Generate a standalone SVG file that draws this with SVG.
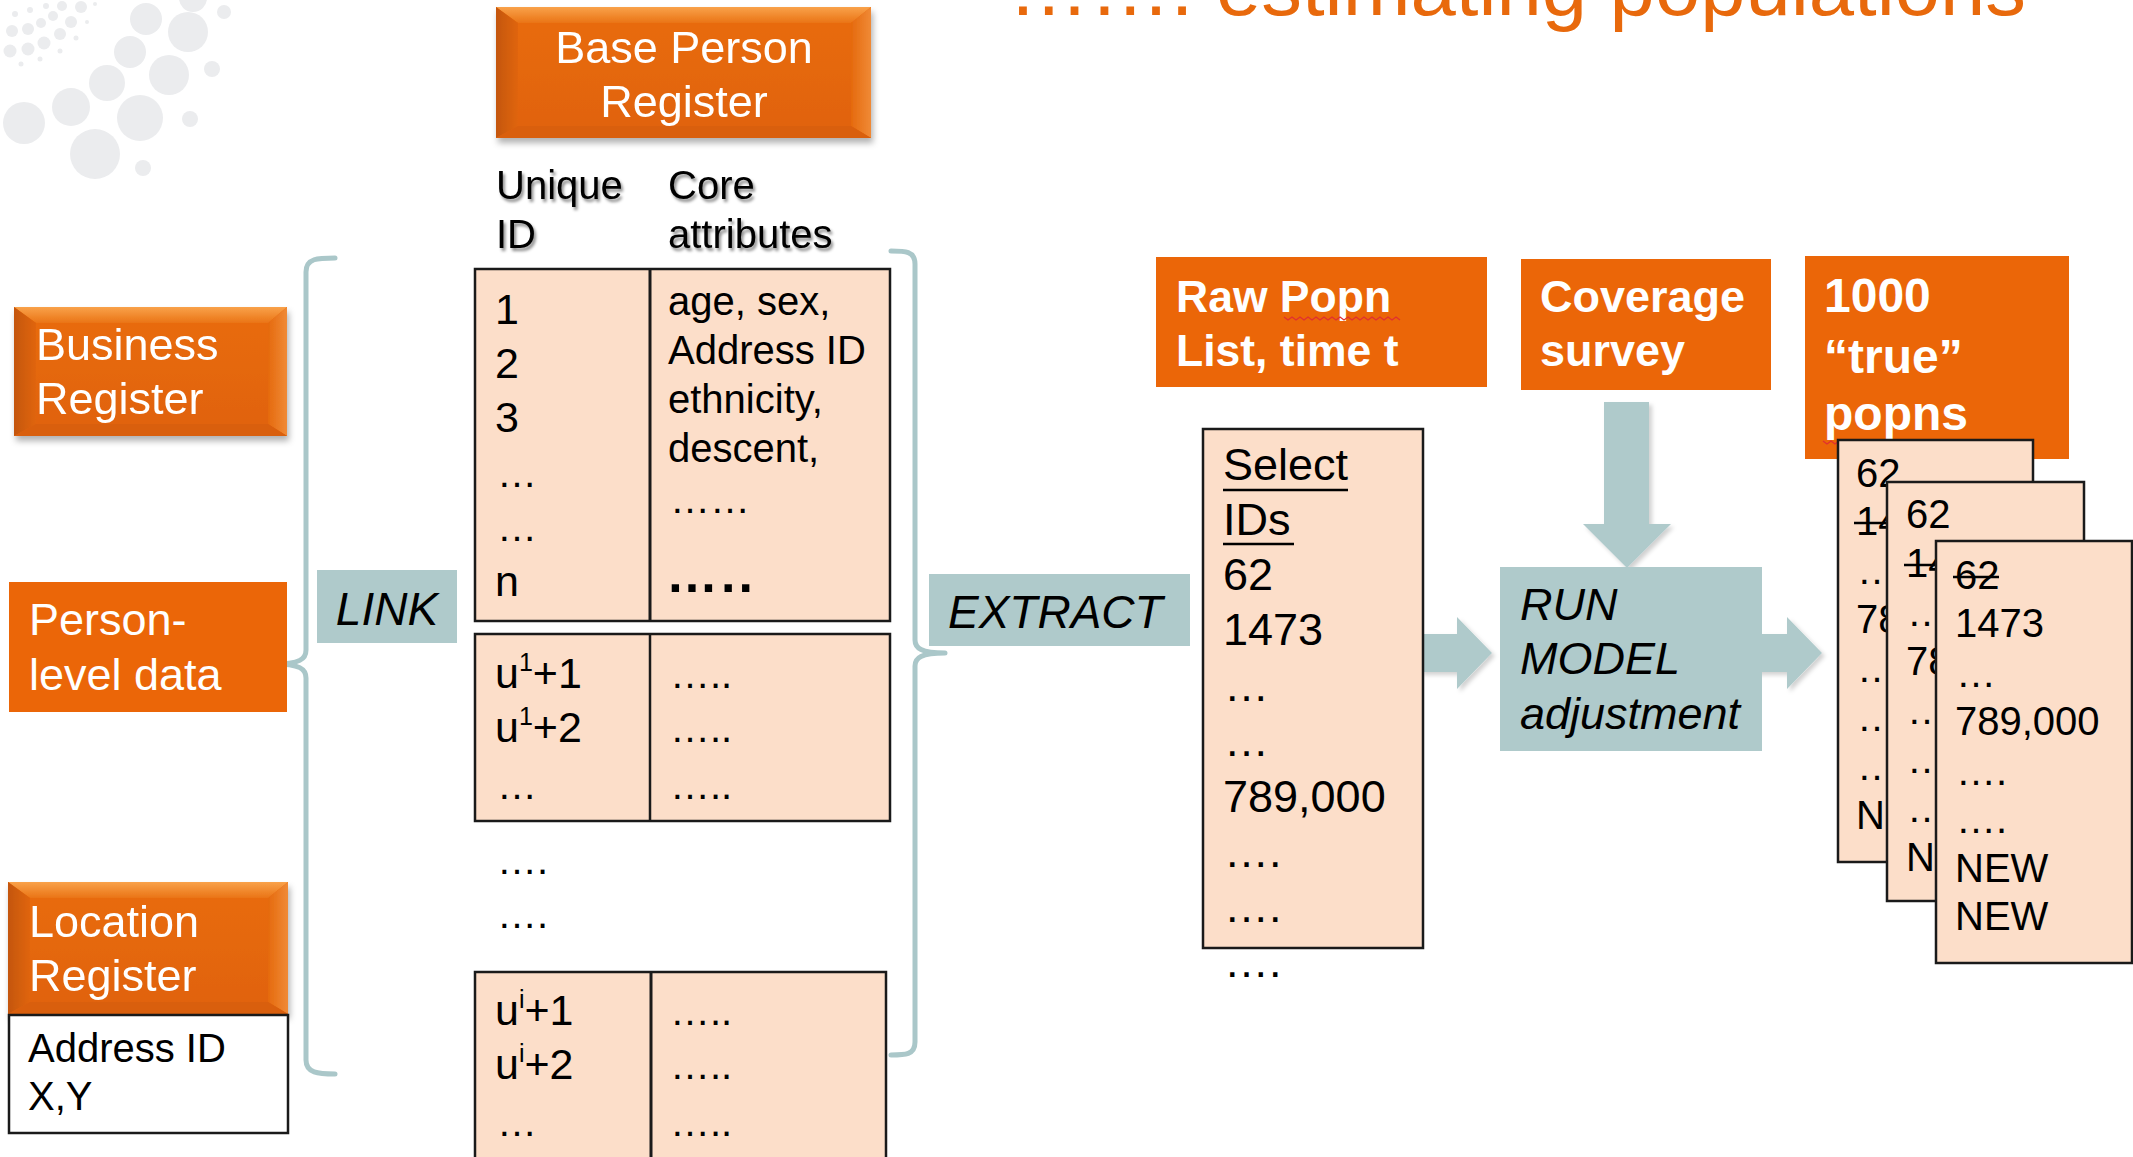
<svg xmlns="http://www.w3.org/2000/svg" width="2133" height="1157" viewBox="0 0 2133 1157">
<defs>
<style>
text{font-family:"Liberation Sans",Arial,sans-serif;}
.w{fill:#fff;}
.b{fill:#000;}
.t40{font-size:40px;}
.t45{font-size:45px;}
.bold{font-weight:bold;}
.it{font-style:italic;}
.peach{fill:#FCDEC9;stroke:#1a1a1a;stroke-width:2.5;}
.flat{fill:#EB6608;}
.teal{fill:#AFCACB;}
.brace{fill:none;stroke:#AAC7C9;stroke-width:5;stroke-linecap:round;}
.dec{fill:#EBECEE;}
.strike{stroke:#000;stroke-width:2.5;}
</style>
<linearGradient id="gTop" x1="0" y1="0" x2="0" y2="1"><stop offset="0" stop-color="#F9A24A"/><stop offset="1" stop-color="#EA7416"/></linearGradient>
<linearGradient id="gLeft" x1="0" y1="0" x2="1" y2="0"><stop offset="0" stop-color="#C4560A"/><stop offset="1" stop-color="#E0650C"/></linearGradient>
<linearGradient id="gRight" x1="0" y1="0" x2="1" y2="0"><stop offset="0" stop-color="#E56A0E"/><stop offset="1" stop-color="#F08A36"/></linearGradient>
<linearGradient id="gBody" x1="0" y1="0" x2="0" y2="1"><stop offset="0" stop-color="#E96C0E"/><stop offset="1" stop-color="#E0620A"/></linearGradient>
<filter id="sh" x="-10%" y="-10%" width="125%" height="130%"><feDropShadow dx="2" dy="5" stdDeviation="3" flood-color="#000" flood-opacity="0.3"/></filter>
<filter id="ash" x="-10%" y="-10%" width="130%" height="130%"><feDropShadow dx="3" dy="3" stdDeviation="2" flood-color="#000" flood-opacity="0.18"/></filter>
<filter id="ts" x="-5%" y="-10%" width="115%" height="140%"><feDropShadow dx="2" dy="3" stdDeviation="1.6" flood-color="#000" flood-opacity="0.45"/></filter>
</defs>

<rect x="0" y="0" width="2133" height="1157" fill="#fff"/>

<g id="decoration">
<circle class="dec" cx="24" cy="123" r="21"/>
<circle class="dec" cx="71" cy="107" r="19"/>
<circle class="dec" cx="95" cy="154" r="25"/>
<circle class="dec" cx="107" cy="83" r="18"/>
<circle class="dec" cx="140" cy="118" r="23"/>
<circle class="dec" cx="130" cy="52" r="16"/>
<circle class="dec" cx="169" cy="75" r="20"/>
<circle class="dec" cx="146" cy="19" r="16"/>
<circle class="dec" cx="188" cy="32" r="20"/>
<circle class="dec" cx="193" cy="-2" r="14"/>
<circle class="dec" cx="224" cy="12" r="7"/>
<circle class="dec" cx="212" cy="69" r="8"/>
<circle class="dec" cx="190" cy="119" r="8"/>
<circle class="dec" cx="143" cy="168" r="8"/>
<circle class="dec" cx="81" cy="7" r="6"/>
<circle class="dec" cx="71" cy="22" r="6"/>
<circle class="dec" cx="60" cy="34" r="6"/>
<circle class="dec" cx="44" cy="43" r="6.5"/>
<circle class="dec" cx="28" cy="49" r="6.5"/>
<circle class="dec" cx="10" cy="51" r="6.5"/>
<circle class="dec" cx="12" cy="31" r="6"/>
<circle class="dec" cx="28" cy="29" r="6"/>
<circle class="dec" cx="41" cy="23" r="5"/>
<circle class="dec" cx="53" cy="16" r="5"/>
<circle class="dec" cx="62" cy="6" r="5"/>
<circle class="dec" cx="76" cy="38" r="2.5"/>
<circle class="dec" cx="60" cy="51" r="2.5"/>
<circle class="dec" cx="40" cy="59" r="2.5"/>
<circle class="dec" cx="21" cy="64" r="2.5"/>
<circle class="dec" cx="87" cy="22" r="2"/>
<circle class="dec" cx="95" cy="4" r="2"/>
<circle class="dec" cx="30" cy="10" r="3"/>
<circle class="dec" cx="15" cy="14" r="3"/>
<circle class="dec" cx="46" cy="6" r="3"/>
</g>

<g id="title">
<text x="1008" y="15" font-size="80" fill="#E8690C" textLength="1018" lengthAdjust="spacingAndGlyphs">……. estimating populations</text>
</g>

<g id="connectors">
<path class="brace" d="M335,258 C318,258 306,258 306,272 L306,650 C306,659 300,664 274,664 M274,664 C300,664 306,669 306,678 L306,1060 C306,1073 318,1074 335,1074"/>
<path class="brace" d="M891,251 C905,251 915,251 915,264 L915,640 C915,648 921,653 945,653 M945,653 C921,653 915,658 915,666 L915,1042 C915,1055 905,1055 891,1055"/>
<g filter="url(#ash)">
<polygon class="teal" points="1604,402 1649,402 1649,524 1671,524 1627,568 1583,524 1604,524"/>
<polygon class="teal" points="1420,634 1457,634 1457,617 1492,653 1457,689 1457,672 1420,672"/>
<polygon class="teal" points="1748,634 1787,634 1787,617 1822,653 1787,689 1787,672 1748,672"/>
</g>
</g>

<g id="base-person-register" filter="url(#sh)">
<rect x="496" y="7" width="375" height="131" fill="url(#gBody)"/>
<polygon points="496,7 871,7 851,23 518,23" fill="url(#gTop)"/>
<polygon points="496,7 518,23 518,126 496,138" fill="url(#gLeft)"/>
<polygon points="871,7 871,138 851,126 851,23" fill="url(#gRight)"/>
<polygon points="496,138 518,126 851,126 871,138" fill="#D95F0A"/>
<text class="w t45" x="684" y="63" text-anchor="middle">Base Person</text>
<text class="w t45" x="684" y="117" text-anchor="middle">Register</text>
</g>

<g id="headers" filter="url(#ts)">
<text class="b t40" x="496" y="199">Unique</text>
<text class="b t40" x="496" y="248">ID</text>
<text class="b t40" x="668" y="199">Core</text>
<text class="b t40" x="668" y="248">attributes</text>
</g>

<g id="business-register" filter="url(#sh)">
<rect x="14" y="307" width="273" height="129" fill="url(#gBody)"/>
<polygon points="14,307 287,307 268,323 36,323" fill="url(#gTop)"/>
<polygon points="14,307 36,323 36,424 14,436" fill="url(#gLeft)"/>
<polygon points="287,307 287,436 268,424 268,323" fill="url(#gRight)"/>
<polygon points="14,436 36,424 268,424 287,436" fill="#D95F0A"/>
<text class="w t45" x="36" y="360">Business</text>
<text class="w t45" x="36" y="414">Register</text>
</g>

<g id="person-level-data">
<rect class="flat" x="9" y="582" width="278" height="130"/>
<text class="w t45" x="29" y="635">Person-</text>
<text class="w t45" x="29" y="690">level data</text>
</g>

<g id="location-register" filter="url(#sh)">
<rect x="8" y="882" width="280" height="132" fill="url(#gBody)"/>
<polygon points="8,882 288,882 268,898 30,898" fill="url(#gTop)"/>
<polygon points="8,882 30,898 30,1002 8,1014" fill="url(#gLeft)"/>
<polygon points="288,882 288,1014 268,1002 268,898" fill="url(#gRight)"/>
<polygon points="8,1014 30,1002 268,1002 288,1014" fill="#D95F0A"/>
<text class="w t45" x="29" y="937">Location</text>
<text class="w t45" x="29" y="991">Register</text>
</g>

<g id="address-box">
<rect x="9" y="1015" width="279" height="118" fill="#fff" stroke="#1a1a1a" stroke-width="2.5"/>
<text class="b t40" x="28" y="1062">Address ID</text>
<text class="b t40" x="28" y="1110">X,Y</text>
</g>

<g id="link">
<rect class="teal" x="317" y="570" width="140" height="73"/>
<text class="b it" font-size="46" x="387" y="625" text-anchor="middle">LINK</text>
</g>

<g id="table-1">
<rect class="peach" x="475" y="269" width="415" height="352"/>
<line x1="650" y1="269" x2="650" y2="621" stroke="#1a1a1a" stroke-width="3"/>
<text class="b" font-size="43" x="495" y="324">1</text>
<text class="b" font-size="43" x="495" y="378">2</text>
<text class="b" font-size="43" x="495" y="432">3</text>
<text class="b t40" x="497" y="487">…</text>
<text class="b t40" x="497" y="541">…</text>
<text class="b" font-size="43" x="495" y="596">n</text>
<text class="b t40" x="668" y="315">age, sex,</text>
<text class="b t40" x="668" y="364">Address ID</text>
<text class="b t40" x="668" y="413">ethnicity,</text>
<text class="b t40" x="668" y="462">descent,</text>
<text class="b t40" x="670" y="513">……</text>
<text class="b bold" font-size="52" x="666" y="592" letter-spacing="3">…..</text>
</g>

<g id="table-2">
<rect class="peach" x="475" y="634" width="415" height="187"/>
<line x1="650" y1="634" x2="650" y2="821" stroke="#1a1a1a" stroke-width="2.5"/>
<text class="b" font-size="43" x="495" y="688">u<tspan dy="-17" font-size="25">1</tspan><tspan dy="17">+1</tspan></text>
<text class="b" font-size="43" x="495" y="742">u<tspan dy="-17" font-size="25">1</tspan><tspan dy="17">+2</tspan></text>
<text class="b t40" x="497" y="799">…</text>
<text class="b t40" x="670" y="688">…..</text>
<text class="b t40" x="670" y="742">…..</text>
<text class="b t40" x="670" y="799">…..</text>
</g>

<g id="gap-dots">
<text class="b t40" x="497" y="874">….</text>
<text class="b t40" x="497" y="928">….</text>
</g>

<g id="table-3">
<rect class="peach" x="475" y="972" width="411" height="200"/>
<line x1="651" y1="972" x2="651" y2="1160" stroke="#1a1a1a" stroke-width="3"/>
<text class="b" font-size="43" x="495" y="1025">u<tspan dy="-17" font-size="25">i</tspan><tspan dy="17">+1</tspan></text>
<text class="b" font-size="43" x="495" y="1079">u<tspan dy="-17" font-size="25">i</tspan><tspan dy="17">+2</tspan></text>
<text class="b t40" x="497" y="1136">…</text>
<text class="b t40" x="670" y="1025">…..</text>
<text class="b t40" x="670" y="1079">…..</text>
<text class="b t40" x="670" y="1136">…..</text>
</g>

<g id="extract">
<rect class="teal" x="929" y="574" width="261" height="72"/>
<text class="b it" font-size="46" x="948" y="628">EXTRACT</text>
</g>

<g id="raw-popn">
<rect class="flat" x="1156" y="257" width="331" height="130"/>
<text class="w bold" font-size="44.5" x="1176" y="312">Raw Popn</text>
<text class="w bold" font-size="44.5" x="1176" y="366">List, time t</text>
<path d="M1284,317 l4,3 l4,-3 l4,3 l4,-3 l4,3 l4,-3 l4,3 l4,-3 l4,3 l4,-3 l4,3 l4,-3 l4,3 l4,-3 l4,3 l4,-3 l4,3 l4,-3 l4,3 l4,-3 l4,3 l4,-3 l4,3 l4,-3 l4,3 l4,-3 l4,3 l4,-3 l4,3" fill="none" stroke="#E03030" stroke-width="1.3"/>
</g>

<g id="coverage-survey">
<rect class="flat" x="1521" y="259" width="250" height="131"/>
<text class="w bold" font-size="45" x="1540" y="312">Coverage</text>
<text class="w bold" font-size="45" x="1540" y="366">survey</text>
</g>

<g id="true-popns">
<rect class="flat" x="1805" y="256" width="264" height="203"/>
<text class="w bold" font-size="48" x="1824" y="312">1000</text>
<text class="w bold" font-size="48" x="1824" y="373">“true”</text>
<text class="w bold" font-size="48" x="1824" y="430">popns</text>
<path d="M1823,441 l4,3 l4,-3 l4,3 l4,-3" fill="none" stroke="#E03030" stroke-width="1.3"/>
</g>

<g id="select-ids">
<rect class="peach" x="1203" y="429" width="220" height="519"/>
<text class="b t45" x="1223" y="480">Select</text>
<line x1="1223" y1="490" x2="1348" y2="490" stroke="#000" stroke-width="2.5"/>
<text class="b t45" x="1223" y="535">IDs</text>
<line x1="1223" y1="544" x2="1294" y2="544" stroke="#000" stroke-width="2.5"/>
<text class="b t45" x="1223" y="590">62</text>
<text class="b t45" x="1223" y="645">1473</text>
<text class="b t45" x="1224" y="701">…</text>
<text class="b t45" x="1224" y="756">…</text>
<text class="b t45" x="1223" y="812">789,000</text>
<text class="b t45" x="1224" y="867">….</text>
<text class="b t45" x="1224" y="922">….</text>
<text class="b t45" x="1224" y="977">….</text>
</g>

<g id="run-model">
<rect class="teal" x="1500" y="567" width="262" height="184"/>
<text class="b it t45" x="1520" y="620">RUN</text>
<text class="b it t45" x="1520" y="674">MODEL</text>
<text class="b it t45" x="1520" y="729">adjustment</text>
</g>

<g id="population-card-1">
<rect class="peach" x="1838" y="440" width="195" height="422"/>
<text class="b t40" x="1856" y="487">62</text>
<text class="b t40" x="1856" y="535">1473</text>
<line class="strike" x1="1854" y1="523" x2="1946" y2="523"/>
<text class="b t40" x="1857" y="584">…</text>
<text class="b t40" x="1856" y="633">789,000</text>
<text class="b t40" x="1857" y="682">….</text>
<text class="b t40" x="1857" y="731">….</text>
<text class="b t40" x="1857" y="780">….</text>
<text class="b t40" x="1856" y="829">NEW</text>
</g>

<g id="population-card-2">
<rect class="peach" x="1887" y="482" width="197" height="419"/>
<text class="b t40" x="1906" y="528">62</text>
<text class="b t40" x="1906" y="577">1473</text>
<line class="strike" x1="1904" y1="565" x2="1996" y2="565"/>
<text class="b t40" x="1907" y="626">…</text>
<text class="b t40" x="1906" y="675">789,000</text>
<text class="b t40" x="1907" y="724">….</text>
<text class="b t40" x="1907" y="773">….</text>
<text class="b t40" x="1907" y="822">….</text>
<text class="b t40" x="1906" y="871">NEW</text>
</g>

<g id="population-card-3">
<rect class="peach" x="1936" y="541" width="196" height="422"/>
<text class="b t40" x="1955" y="589">62</text>
<line class="strike" x1="1953" y1="577" x2="1999" y2="577"/>
<text class="b t40" x="1955" y="637">1473</text>
<text class="b t40" x="1956" y="687">…</text>
<text class="b t40" x="1955" y="735">789,000</text>
<text class="b t40" x="1956" y="785">….</text>
<text class="b t40" x="1956" y="833">….</text>
<text class="b t40" x="1955" y="882">NEW</text>
<text class="b t40" x="1955" y="930">NEW</text>
</g>
</svg>
